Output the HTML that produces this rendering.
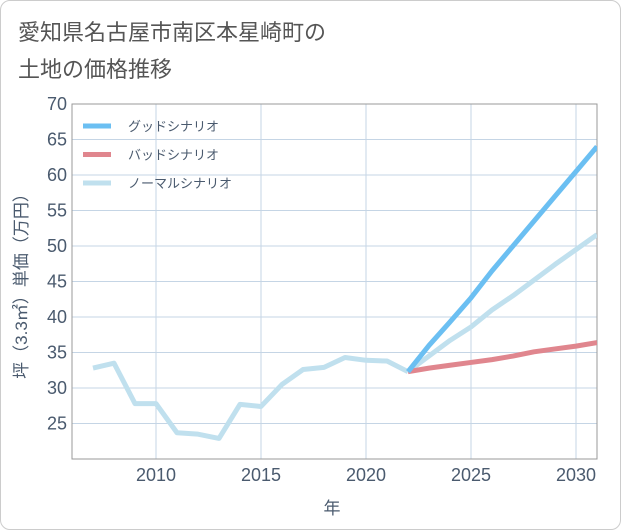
<!DOCTYPE html>
<html><head><meta charset="utf-8"><style>
body{margin:0;background:#fff;}
#card{position:absolute;left:0;top:0;width:619px;height:528px;border:1px solid #ccc;border-radius:10px;background:#fff;}
#title{position:absolute;left:18px;top:14px;font:22px "Liberation Sans","Noto Sans CJK JP",sans-serif;color:#555;line-height:37px;}
svg{position:absolute;left:0;top:0;}
text{font-family:"Liberation Sans","Noto Sans CJK JP",sans-serif;}
</style></head><body>
<div id="card"></div>
<div id="title">愛知県名古屋市南区本星崎町の<br>土地の価格推移</div>
<svg id="chart" width="621" height="530"></svg>
<script>
const histYears=[2007,2008,2009,2010,2011,2012,2013,2014,2015,2016,2017,2018,2019,2020,2021,2022];
const histValues=[32.8,33.5,27.8,27.8,23.7,23.5,22.9,27.7,27.4,30.5,32.6,32.9,34.3,33.9,33.8,32.3];
const futYears=[2022,2023,2024,2025,2026,2027,2028,2029,2030,2031];
const goodValues=[32.3,36,39.3,42.7,46.5,50,53.5,57,60.5,64];
const badValues=[32.3,32.8,33.2,33.6,34.0,34.5,35.1,35.5,35.9,36.4];
const normalValues=[32.3,34.5,36.7,38.6,41,43,45.2,47.4,49.5,51.6];
const yTicks=[25,30,35,40,45,50,55,60,65,70];
const xTicks=[2010,2015,2020,2025,2030];
const L=72,R=597,T=104,B=459;
const x=v=>L+(v-2006)*(R-L)/25;
const y=v=>B-(v-20)*(B-T)/50;
const svg=document.getElementById('chart');
const NS='http://www.w3.org/2000/svg';
const TC='#4a5a6e';
function mk(t,a,p){const e=document.createElementNS(NS,t);for(const k in a)e.setAttribute(k,a[k]);(p||svg).appendChild(e);return e;}
const defs=mk('defs',{});const cp=mk('clipPath',{id:'clip'},defs);mk('rect',{x:L,y:T,width:R-L,height:B-T},cp);
yTicks.forEach(v=>{
 const g=mk('line',{x1:L,x2:R,y1:y(v),y2:y(v),stroke:'#c5d5e5','stroke-width':1});
 
 
 const t=mk('text',{x:L-5,y:y(v)+6,'text-anchor':'end','font-size':18,fill:TC});t.textContent=v;
 
 
});
xTicks.forEach(v=>{
 const g=mk('line',{x1:x(v),x2:x(v),y1:T,y2:B,stroke:'#c5d5e5','stroke-width':1});
 
 
 const t=mk('text',{x:x(v),y:B+22,'text-anchor':'middle','font-size':18,fill:TC});t.textContent=v;
 
 
});
const ax=mk('path',{d:`M${L},${T}V${B}H${R}V${T}Z`,fill:'none',stroke:'#999','stroke-width':1});


function line(xs,vs,col,name){
 const p=mk('polyline',{points:xs.map((a,i)=>x(a)+','+y(vs[i])).join(' '),fill:'none',stroke:col,'stroke-width':5,'stroke-linejoin':'round','clip-path':'url(#clip)'});
 
 
}
line(histYears,histValues,'#c0e0ee','normal-history-line');
line(futYears,normalValues,'#c0e0ee','normal-scenario-line');
line(futYears,badValues,'#e0868e','bad-scenario-line');
line(futYears,goodValues,'#6bbff2','good-scenario-line');
const leg=[['グッドシナリオ','#6bbff2'],['バッドシナリオ','#e0868e'],['ノーマルシナリオ','#c0e0ee']];
leg.forEach((l,i)=>{
 const yy=126+i*28.5;
 const s=mk('line',{x1:83,x2:111,y1:yy,y2:yy,stroke:l[1],'stroke-width':5});
 
 
 const t=mk('text',{x:128,y:yy+5,'font-size':13,fill:TC});t.textContent=l[0];
 
 
});
const yt=mk('text',{x:0,y:0,'font-size':17,fill:TC,'text-anchor':'middle',transform:'translate(27,282) rotate(-90)'});yt.textContent='坪（3.3㎡）単価（万円）';


const xt=mk('text',{x:332,y:514,'font-size':17,fill:TC,'text-anchor':'middle'});xt.textContent='年';


</script>
</body></html>
